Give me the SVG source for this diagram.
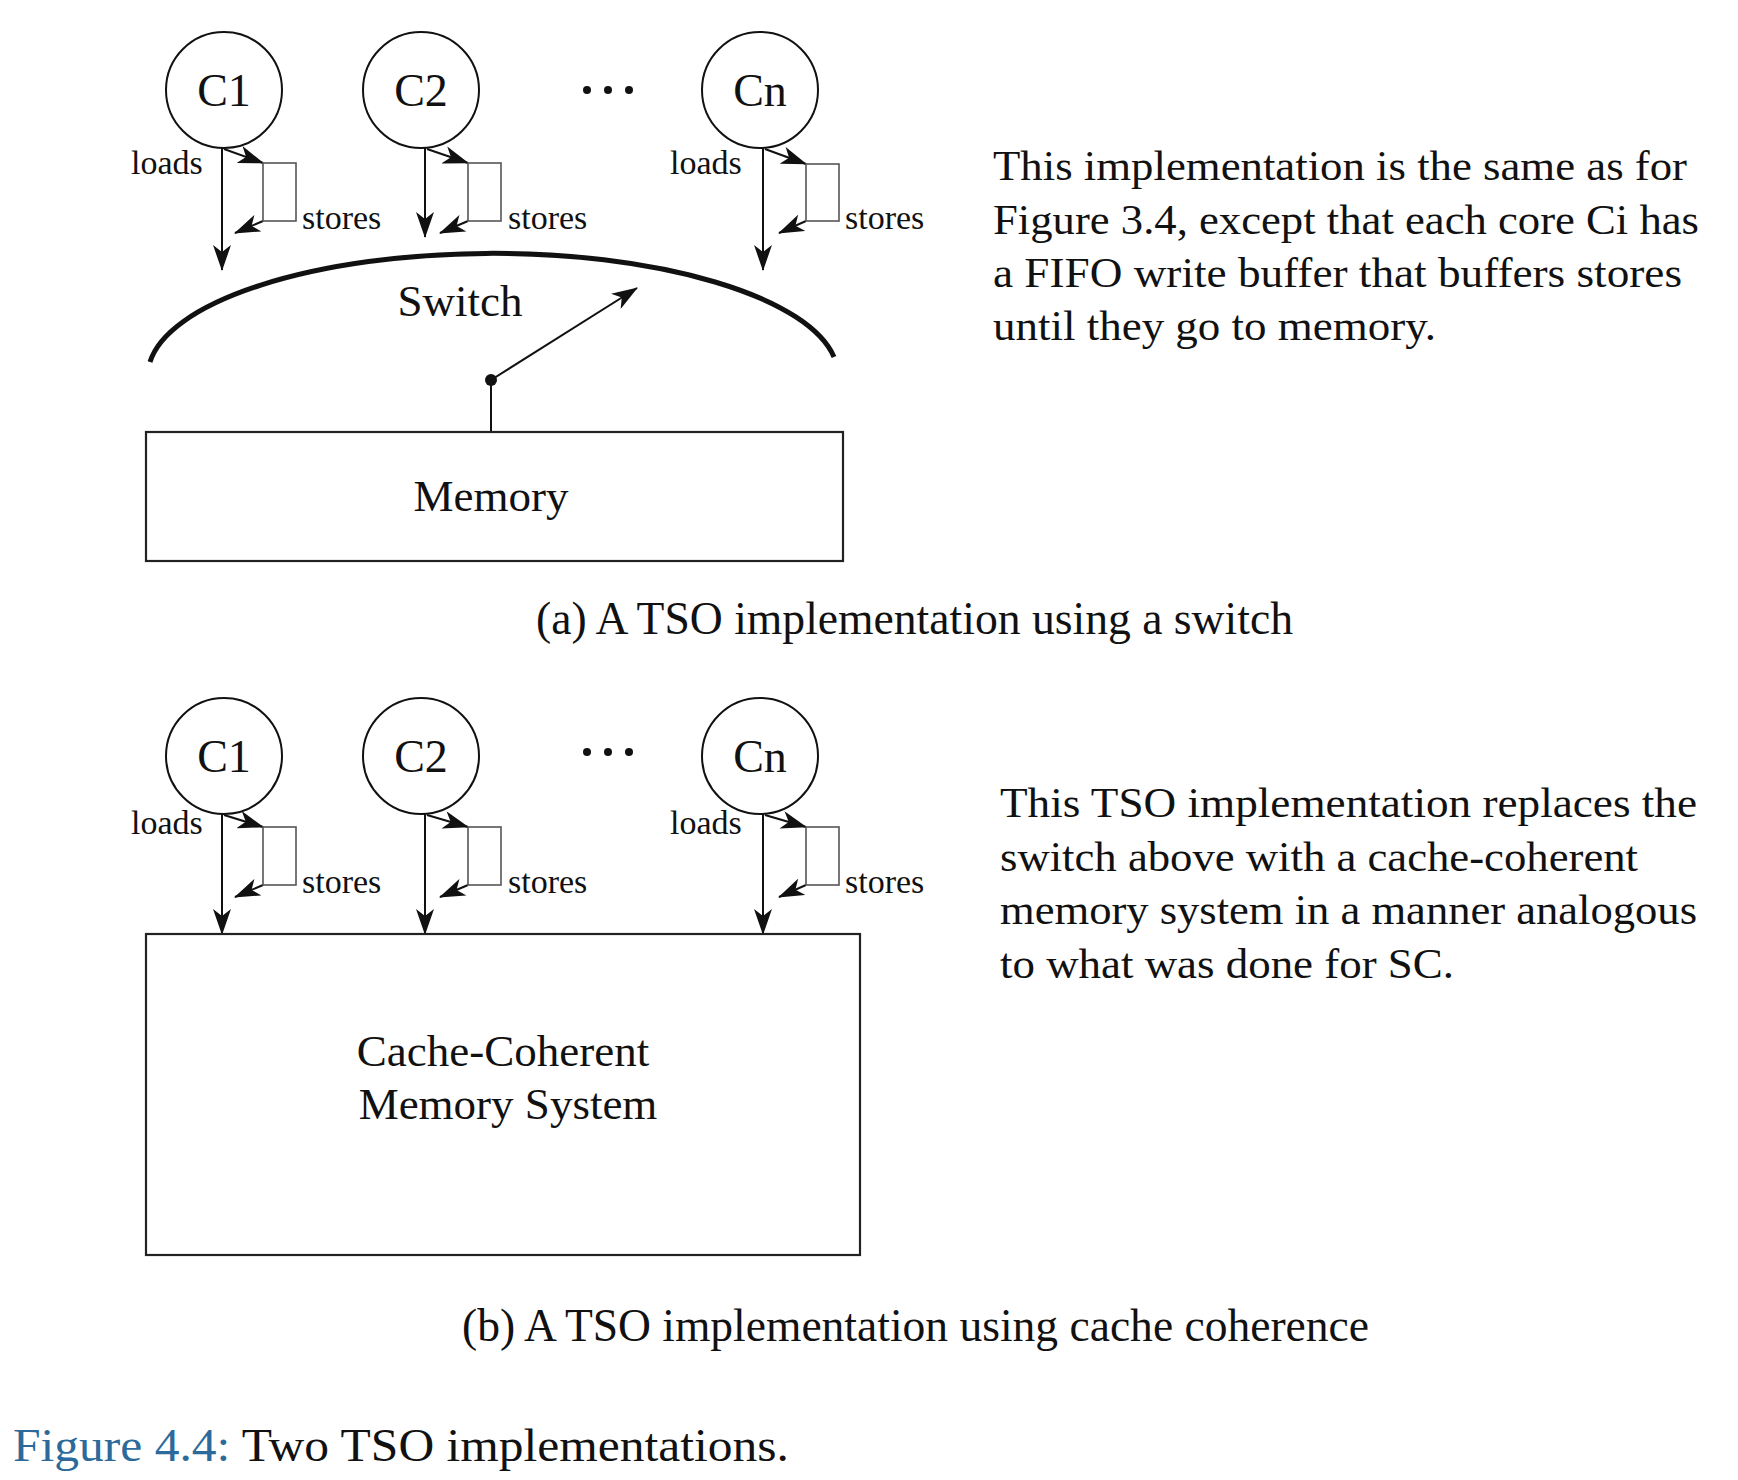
<svg xmlns="http://www.w3.org/2000/svg" width="1738" height="1480" viewBox="0 0 1738 1480">
<style>
text{font-family:"Liberation Serif","DejaVu Serif",serif;fill:#111}
.core{fill:#fff;stroke:#111;stroke-width:2}
.cl{font-size:46px;text-anchor:middle}
.sm{font-size:34px}
.buf{fill:#fff;stroke:#555;stroke-width:1.6}
.ar{stroke:#111;stroke-width:2;fill:none}
.box{fill:#fff;stroke:#222;stroke-width:2.2}
.big{font-size:45px}
.cap{font-size:46px}
.para{font-size:43px}
</style>
<defs>
<marker id="ah" viewBox="0 0 26 18" refX="25" refY="9" markerWidth="26" markerHeight="18" markerUnits="userSpaceOnUse" orient="auto">
<path d="M0,0 L26,9 L0,18 L7,9 z" fill="#111"/>
</marker>
</defs>
<rect width="1738" height="1480" fill="#fff"/>

<g id="connectors">
<!-- part a -->
<line class="ar" marker-end="url(#ah)" x1="222" y1="148" x2="222" y2="270"/>
<line class="ar" marker-end="url(#ah)" x1="224" y1="149" x2="263" y2="163"/>
<line class="ar" marker-end="url(#ah)" x1="263" y1="221" x2="235" y2="233"/>
<line class="ar" marker-end="url(#ah)" x1="425" y1="148" x2="425" y2="237"/>
<line class="ar" marker-end="url(#ah)" x1="427" y1="149" x2="468" y2="163"/>
<line class="ar" marker-end="url(#ah)" x1="468" y1="221" x2="440" y2="233"/>
<line class="ar" marker-end="url(#ah)" x1="763" y1="148" x2="763" y2="270"/>
<line class="ar" marker-end="url(#ah)" x1="765" y1="149" x2="806" y2="164"/>
<line class="ar" marker-end="url(#ah)" x1="806" y1="221" x2="779" y2="233"/>
<line x1="491" y1="380" x2="491" y2="432" stroke="#111" stroke-width="2"/>
<line class="ar" marker-end="url(#ah)" x1="491" y1="380" x2="637" y2="288"/>
<circle cx="491" cy="380" r="6" fill="#111"/>
<!-- part b -->
<line class="ar" marker-end="url(#ah)" x1="222" y1="814" x2="222" y2="934"/>
<line class="ar" marker-end="url(#ah)" x1="224" y1="815" x2="263" y2="827"/>
<line class="ar" marker-end="url(#ah)" x1="263" y1="885" x2="235" y2="897"/>
<line class="ar" marker-end="url(#ah)" x1="425" y1="814" x2="425" y2="934"/>
<line class="ar" marker-end="url(#ah)" x1="427" y1="815" x2="468" y2="827"/>
<line class="ar" marker-end="url(#ah)" x1="468" y1="885" x2="440" y2="897"/>
<line class="ar" marker-end="url(#ah)" x1="763" y1="814" x2="763" y2="934"/>
<line class="ar" marker-end="url(#ah)" x1="765" y1="815" x2="806" y2="827"/>
<line class="ar" marker-end="url(#ah)" x1="806" y1="885" x2="779" y2="897"/>
</g>

<!-- part (a) nodes -->
<g id="a-c1"><circle class="core" cx="224" cy="90" r="58"/><text class="cl" x="224" y="106">C1</text></g>
<g id="a-c2"><circle class="core" cx="421" cy="90" r="58"/><text class="cl" x="421" y="106">C2</text></g>
<g id="a-cn"><circle class="core" cx="760" cy="90" r="58"/><text class="cl" x="760" y="106">Cn</text></g>
<g id="a-dots"><circle cx="587" cy="90" r="4" fill="#111"/><circle cx="608" cy="90" r="4" fill="#111"/><circle cx="629" cy="90" r="4" fill="#111"/></g>
<g id="a-buf1"><rect class="buf" x="263" y="163" width="33" height="58"/><text class="sm" x="131" y="174">loads</text><text class="sm" x="302" y="229">stores</text></g>
<g id="a-buf2"><rect class="buf" x="468" y="163" width="33" height="58"/><text class="sm" x="508" y="229">stores</text></g>
<g id="a-bufn"><rect class="buf" x="806" y="164" width="33" height="57"/><text class="sm" x="670" y="174">loads</text><text class="sm" x="845" y="229">stores</text></g>
<g id="a-switch"><path d="M150,362 A345,122 0 0 1 834,357" fill="none" stroke="#111" stroke-width="5"/><text class="big" x="460" y="316" text-anchor="middle">Switch</text></g>
<g id="a-memory"><rect class="box" x="146" y="432" width="697" height="129"/><text class="big" x="491" y="511" text-anchor="middle">Memory</text></g>
<text class="cap" x="536" y="634" textLength="757" lengthAdjust="spacingAndGlyphs">(a) A TSO implementation using a switch</text>
<g id="a-desc">
<text class="para" x="993" y="180" textLength="694" lengthAdjust="spacingAndGlyphs">This implementation is the same as for</text>
<text class="para" x="993" y="234" textLength="706" lengthAdjust="spacingAndGlyphs">Figure 3.4, except that each core Ci has</text>
<text class="para" x="993" y="287" textLength="689" lengthAdjust="spacingAndGlyphs">a FIFO write buffer that buffers stores</text>
<text class="para" x="993" y="340" textLength="443" lengthAdjust="spacingAndGlyphs">until they go to memory.</text>
</g>

<!-- part (b) nodes -->
<g id="b-c1"><circle class="core" cx="224" cy="756" r="58"/><text class="cl" x="224" y="772">C1</text></g>
<g id="b-c2"><circle class="core" cx="421" cy="756" r="58"/><text class="cl" x="421" y="772">C2</text></g>
<g id="b-cn"><circle class="core" cx="760" cy="756" r="58"/><text class="cl" x="760" y="772">Cn</text></g>
<g id="b-dots"><circle cx="587" cy="752" r="4" fill="#111"/><circle cx="608" cy="752" r="4" fill="#111"/><circle cx="629" cy="752" r="4" fill="#111"/></g>
<g id="b-buf1"><rect class="buf" x="263" y="827" width="33" height="58"/><text class="sm" x="131" y="834">loads</text><text class="sm" x="302" y="893">stores</text></g>
<g id="b-buf2"><rect class="buf" x="468" y="827" width="33" height="58"/><text class="sm" x="508" y="893">stores</text></g>
<g id="b-bufn"><rect class="buf" x="806" y="827" width="33" height="58"/><text class="sm" x="670" y="834">loads</text><text class="sm" x="845" y="893">stores</text></g>
<g id="b-ccm"><rect class="box" x="146" y="934" width="714" height="321"/><text class="big" x="503" y="1066" text-anchor="middle">Cache-Coherent</text><text class="big" x="508" y="1119" text-anchor="middle">Memory System</text></g>
<text class="cap" x="462" y="1341" textLength="907" lengthAdjust="spacingAndGlyphs">(b) A TSO implementation using cache coherence</text>
<g id="b-desc">
<text class="para" x="1000" y="817" textLength="697" lengthAdjust="spacingAndGlyphs">This TSO implementation replaces the</text>
<text class="para" x="1000" y="871" textLength="638" lengthAdjust="spacingAndGlyphs">switch above with a cache-coherent</text>
<text class="para" x="1000" y="924" textLength="697" lengthAdjust="spacingAndGlyphs">memory system in a manner analogous</text>
<text class="para" x="1000" y="978" textLength="454" lengthAdjust="spacingAndGlyphs">to what was done for SC.</text>
</g>

<text class="cap" x="13" y="1461" font-size="48" textLength="776" lengthAdjust="spacingAndGlyphs"><tspan fill="#2b6a9a">Figure 4.4:</tspan> Two TSO implementations.</text>
</svg>
